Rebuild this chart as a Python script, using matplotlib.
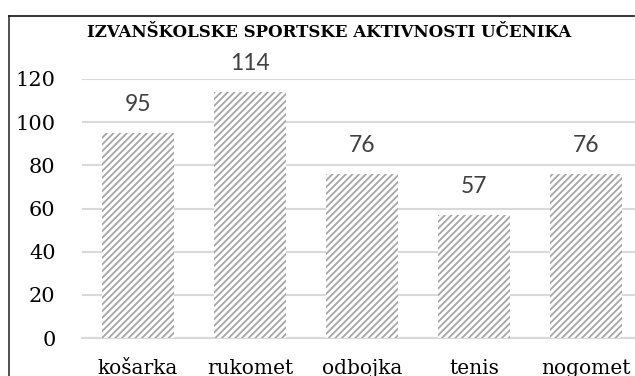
import matplotlib
matplotlib.use("Agg")
import matplotlib.pyplot as plt
from matplotlib.lines import Line2D

categories = ["košarka", "rukomet", "odbojka", "tenis", "nogomet"]
values = [95, 114, 76, 57, 76]
yticks = [0, 20, 40, 60, 80, 100, 120]
title = "IZVANŠKOLSKE SPORTSKE AKTIVNOSTI UČENIKA"

W, H = 635, 376
fig = plt.figure(figsize=(W / 100, H / 100), dpi=100)
plt.rcParams["hatch.linewidth"] = 1.3
plt.rcParams["hatch.color"] = "#a6a6a6"

# axes placement in pixels: left 82, right 642, y=0 at 338, y=120 at 79
x0, x1 = 82, 642
ybot, ytop = 338, 79
ax = fig.add_axes([x0 / W, 1 - ybot / H, (x1 - x0) / W, (ybot - ytop) / H])
ax.set_xlim(-0.5, len(categories) - 0.5)
ax.set_ylim(0, 120)

ax.bar(range(len(categories)), values, width=0.643, color="white",
       hatch="/////", edgecolor="#a6a6a6", linewidth=0, zorder=3)

for i, v in enumerate(values):
    ax.annotate(str(v), (i, v), xytext=(0, 16), textcoords="offset points",
                ha="center", va="baseline", fontsize=16.5, family="Lato",
                color="#404040", annotation_clip=False, zorder=4)

ax.set_yticks(yticks)
ax.yaxis.grid(True, color="#d9d9d9", linewidth=1.5, zorder=0)
ax.set_axisbelow(True)
for s in ["top", "right", "left"]:
    ax.spines[s].set_visible(False)
ax.spines["bottom"].set_color("#d9d9d9")
ax.spines["bottom"].set_linewidth(1.5)
ax.tick_params(axis="both", length=0)
ax.tick_params(axis="y", pad=19, labelsize=15, labelcolor="black")
ax.tick_params(axis="x", pad=15, labelsize=14.5, labelcolor="black")
ax.set_xticks(range(len(categories)))
ax.set_xticklabels(categories, family="DejaVu Serif")
for lbl in ax.get_yticklabels():
    lbl.set_family("DejaVu Serif")

fig.text(329 / W, 1 - 32.5 / H, title, ha="center", va="center",
         fontsize=12, fontweight="bold", family="DejaVu Serif", color="black")

# outer frame: left and top border lines
fig.add_artist(Line2D([9 / W, 9 / W], [0, 1 - 16 / H], transform=fig.transFigure,
                      color="#333333", linewidth=1.2))
fig.add_artist(Line2D([9 / W, 634 / W], [1 - 16 / H, 1 - 16 / H], transform=fig.transFigure,
                      color="#111111", linewidth=1.2))

fig.savefig("out.png", dpi=100)
